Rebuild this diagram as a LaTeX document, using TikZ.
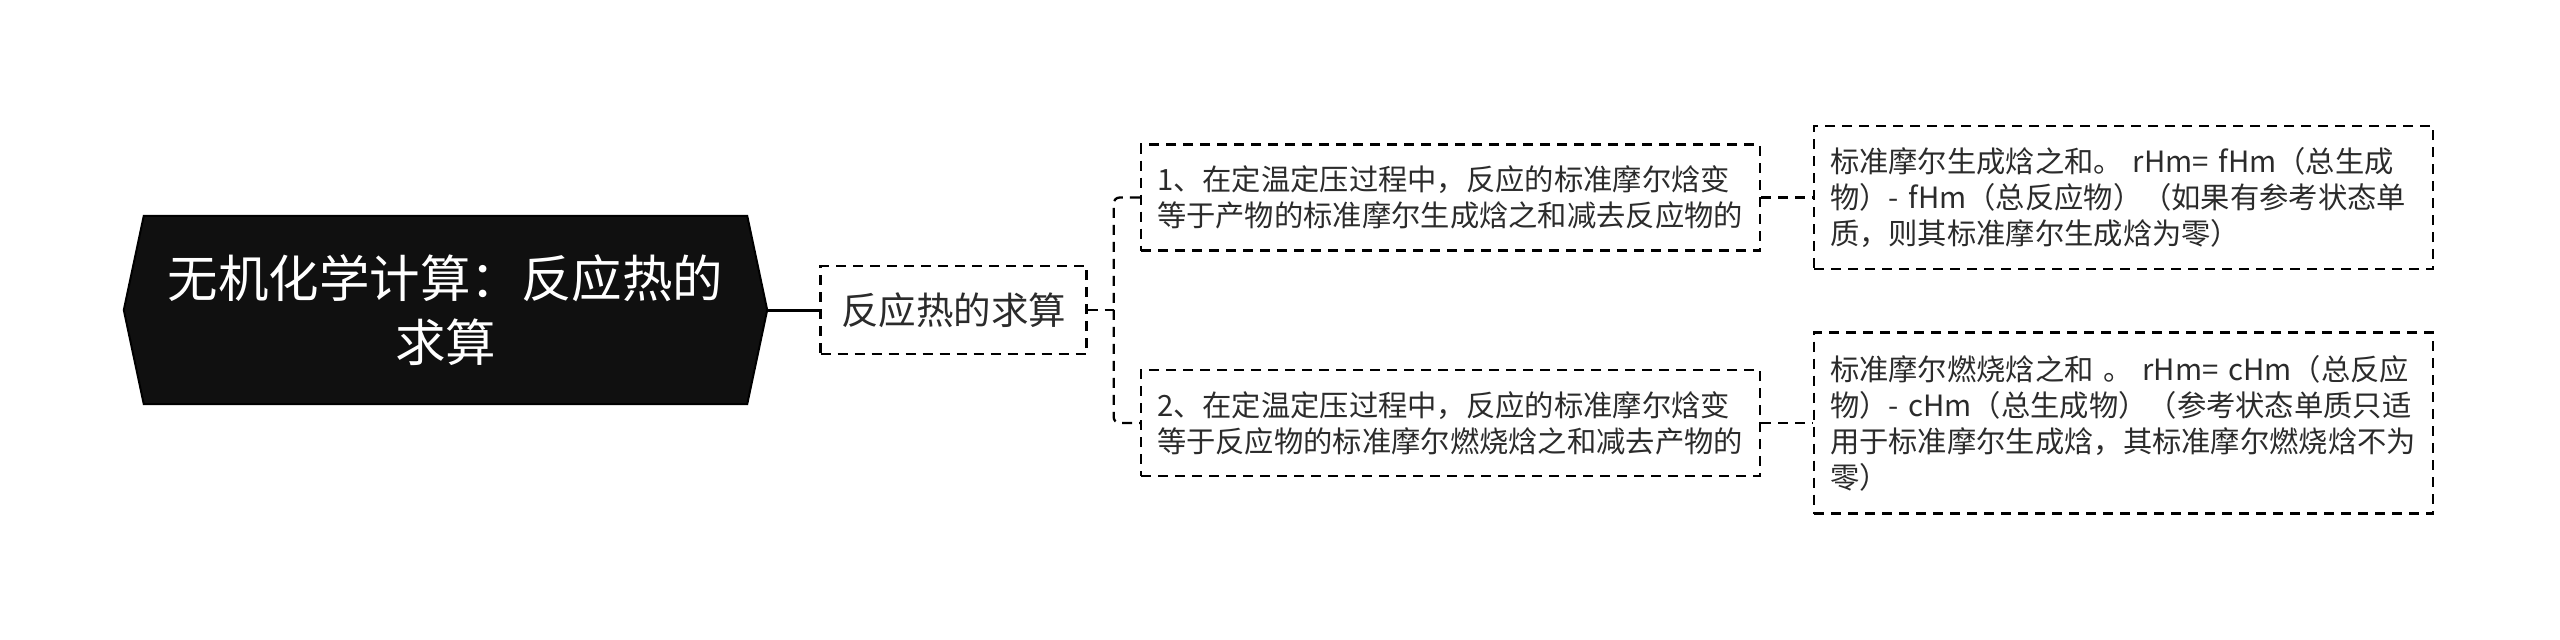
\documentclass[tikz,border=0pt]{standalone}
\usepackage{fontspec}
\setmainfont{Noto Sans CJK SC}
\usetikzlibrary{backgrounds}
\definecolor{txt}{HTML}{2B2B2B}
\definecolor{rootfill}{HTML}{101010}
\begin{document}
\begin{tikzpicture}[x=1pt,y=-1pt,
  rootnode/.style={minimum width=643pt, minimum height=188pt, inner sep=0pt, text=white, align=center, font=\fontsize{50.5}{64}\selectfont},
  dbox/.style={draw=black, line width=2.3pt, dash pattern=on 10pt off 7pt, text=txt, inner xsep=16pt, inner ysep=0pt, align=left},
  midbox/.style={dbox, minimum width=266pt, minimum height=88pt, align=center, font=\fontsize{37.5}{44}\selectfont},
  itembox/.style={dbox, text width=587pt, font=\fontsize{29.3}{36}\selectfont},
  conn/.style={draw=black, line width=2.3pt, dash pattern=on 10pt off 7pt},
  mainconn/.style={draw=black, line width=3pt}
]
\useasboundingbox (0,0) rectangle (2560,640);

\node[rootnode] (root) at (445.5,310) {无机化学计算：反应热的\\求算};
\node[midbox] (child) at (953.5,310) {反应热的求算};

\node[itembox, minimum height=106pt] (b1) at (1450.5,197.5)
  {1、在定温定压过程中，反应的标准摩尔焓变\\等于产物的标准摩尔生成焓之和减去反应物的};
\node[itembox, minimum height=106pt] (b2) at (1450.5,423)
  {2、在定温定压过程中，反应的标准摩尔焓变\\等于反应物的标准摩尔燃烧焓之和减去产物的};

\node[itembox, minimum height=143pt] (leaf1) at (2123.5,197.5)
  {标准摩尔生成焓之和。 rHm= fHm（总生成\\物）- fHm（总反应物）（如果有参考状态单\\质，则其标准摩尔生成焓为零）};
\node[itembox, minimum height=181pt] (leaf2) at (2123.5,423)
  {标准摩尔燃烧焓之和 。 rHm= cHm（总反应\\物）- cHm（总生成物）（参考状态单质只适\\用于标准摩尔生成焓，其标准摩尔燃烧焓不为\\零）};

\begin{scope}[on background layer]
  \fill[white] (0,0) rectangle (2560,640);
  \filldraw[fill=rootfill, draw=black, line width=2pt, line join=miter]
    (root.west) -- ([xshift=20pt]root.north west) -- ([xshift=-20pt]root.north east)
    -- (root.east) -- ([xshift=-20pt]root.south east) -- ([xshift=20pt]root.south west) -- cycle;
\end{scope}

\draw[mainconn] (root.east) -- (child.west);
\draw[conn] (child.east) -- ++(26,0) coordinate (j);
\draw[conn, rounded corners=6pt] (b1.west) -| (j) |- (b2.west);
\draw[conn] (b1.east) -- (leaf1.west);
\draw[conn] (b2.east) -- (leaf2.west);
\end{tikzpicture}
\end{document}
